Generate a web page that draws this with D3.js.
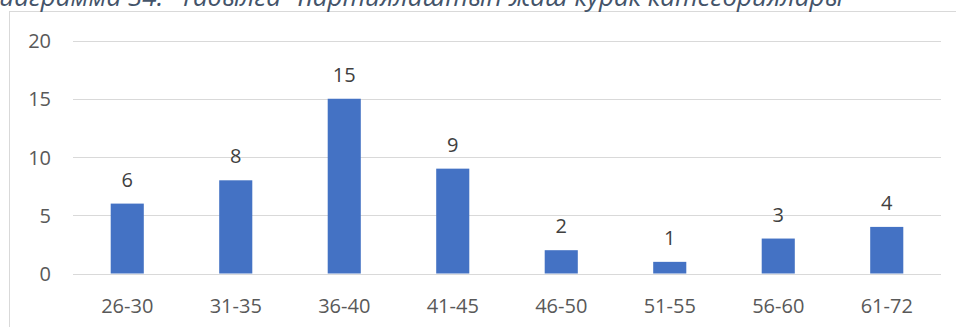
<!DOCTYPE html>
<html><head><meta charset="utf-8">
<script src="https://cdn.jsdelivr.net/npm/d3@7"></script>
<style>body{margin:0;background:#fff;overflow:hidden}svg{display:block}</style>
</head><body>
<svg id="c" width="956" height="327"></svg>
<script>
const titleText = "Диаграмма 34. \"Табылга\" партиялаштын жаш курак категориялары";
const categories = ["26-30","31-35","36-40","41-45","46-50","51-55","56-60","61-72"];
const values = [6, 8, 15, 9, 2, 1, 3, 4];
const yTicks = [0, 5, 10, 15, 20];

const svg = d3.select("#c");
const font = "'Open Sans', sans-serif";
const plot = {left: 73, right: 941, top: 40.5, bottom: 273.5};

// chart frame
svg.append("rect").attr("x", 9.5).attr("y", 11.5).attr("width", 960).attr("height", 330)
  .attr("fill", "none").attr("stroke", "#D9D9D9").attr("stroke-width", 1);

// title (cut off at the top edge, as in the reference)
svg.append("text").attr("x", -17).attr("y", 6)
  .attr("font-family", font).attr("font-style", "italic").attr("font-size", 26)
  .attr("fill", "#44546A").style("white-space", "pre").text(titleText);

const x = d3.scaleBand().domain(categories).range([plot.left, plot.right]).padding(0);
const y = d3.scaleLinear().domain([0, 20]).range([plot.bottom, plot.top]);

// gridlines
svg.append("g").selectAll("line").data(yTicks).join("line")
  .attr("x1", plot.left).attr("x2", plot.right)
  .attr("y1", d => Math.round(y(d)) + 0.5).attr("y2", d => Math.round(y(d)) + 0.5)
  .attr("stroke", "#D9D9D9").attr("stroke-width", 1);

// y axis labels
const yAxis = d3.axisLeft(y).tickValues(yTicks).tickSize(0).tickPadding(0);
const gy = svg.append("g").attr("transform", `translate(51,0)`).call(yAxis);
gy.select(".domain").remove();
gy.selectAll("text").attr("font-family", font).attr("font-size", 20).attr("fill", "#595959")
  .attr("dy", "0.36em");

// bars
const bw = x.bandwidth() * 0.305;
svg.append("g").selectAll("rect").data(values).join("rect")
  .attr("x", (d, i) => x(categories[i]) + x.bandwidth() / 2 - bw / 2)
  .attr("width", bw)
  .attr("y", d => y(d))
  .attr("height", d => y(0) - y(d))
  .attr("fill", "#4472C4");

// axis line at 0
svg.append("line").attr("x1", plot.left).attr("x2", plot.right)
  .attr("y1", Math.round(y(0)) + 0.5).attr("y2", Math.round(y(0)) + 0.5)
  .attr("stroke", "#D9D9D9").attr("stroke-width", 1.2);

// data labels
svg.append("g").selectAll("text").data(values).join("text")
  .attr("x", (d, i) => x(categories[i]) + x.bandwidth() / 2)
  .attr("y", d => y(d) - 17)
  .attr("text-anchor", "middle")
  .attr("font-family", font).attr("font-size", 20).attr("fill", "#404040")
  .text(d => d);

// x axis labels
const xAxis = d3.axisBottom(x).tickSize(0).tickPadding(0);
const gx = svg.append("g").attr("transform", `translate(0,${plot.bottom})`).call(xAxis);
gx.select(".domain").remove();
gx.selectAll("text").attr("font-family", font).attr("font-size", 20).attr("fill", "#595959")
  .attr("dy", null).attr("y", 39);
</script>
</body></html>
